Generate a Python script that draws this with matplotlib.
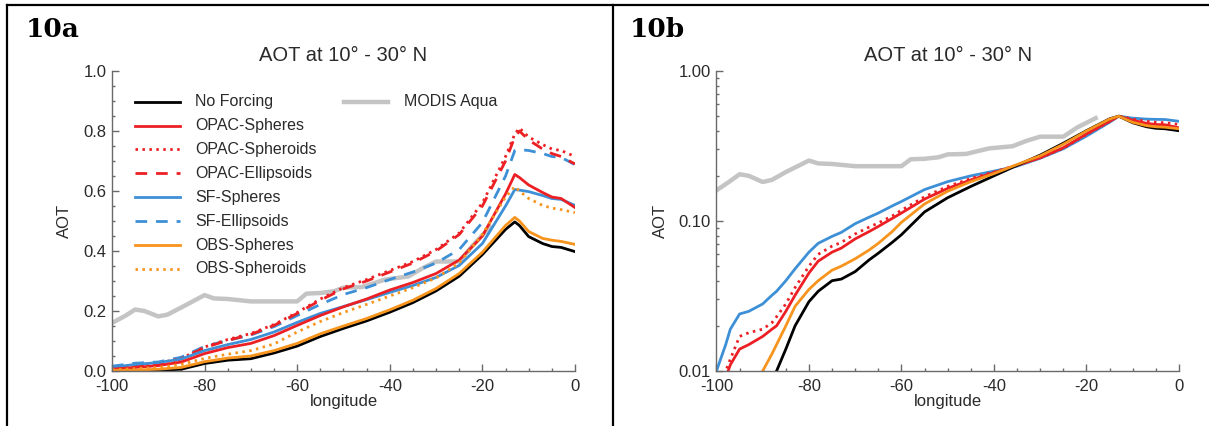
import matplotlib
matplotlib.use("Agg")
import matplotlib.pyplot as plt
from matplotlib.ticker import MultipleLocator, FixedLocator, LogLocator, NullFormatter, FuncFormatter
from matplotlib.lines import Line2D

plt.rcParams['font.family'] = ['Liberation Sans', 'DejaVu Sans']
plt.rcParams['axes.unicode_minus'] = False

# ---------------- data ----------------
lon_a = [-100, -95, -90, -85, -80, -75, -70, -65, -60, -55, -50, -45, -40,
         -35, -30, -25, -20, -15, -13, -12, -10, -7, -5, -3, 0]

no_forcing_a = [0.000, 0.000, 0.002, 0.006, 0.025, 0.036, 0.041, 0.060, 0.083, 0.115, 0.142, 0.167, 0.196,
                0.228, 0.267, 0.316, 0.388, 0.472, 0.497, 0.485, 0.448, 0.425, 0.415, 0.412, 0.398]
opac_spheres_a = [0.006, 0.012, 0.018, 0.030, 0.058, 0.078, 0.092, 0.118, 0.152, 0.185, 0.214, 0.240, 0.270,
                  0.295, 0.325, 0.370, 0.450, 0.590, 0.655, 0.645, 0.620, 0.595, 0.580, 0.575, 0.545]
opac_spheroids_a = [0.010, 0.020, 0.026, 0.042, 0.080, 0.105, 0.125, 0.155, 0.195, 0.240, 0.278, 0.305, 0.335,
                    0.365, 0.405, 0.460, 0.560, 0.715, 0.790, 0.810, 0.780, 0.755, 0.740, 0.735, 0.715]
opac_ellipsoids_a = [0.009, 0.018, 0.025, 0.040, 0.078, 0.102, 0.122, 0.152, 0.192, 0.236, 0.274, 0.300, 0.330,
                     0.360, 0.400, 0.455, 0.550, 0.700, 0.780, 0.800, 0.770, 0.740, 0.725, 0.715, 0.690]
sf_spheres_a = [0.012, 0.022, 0.028, 0.040, 0.068, 0.088, 0.105, 0.130, 0.162, 0.192, 0.215, 0.238, 0.262,
                0.285, 0.312, 0.352, 0.425, 0.550, 0.605, 0.603, 0.598, 0.585, 0.575, 0.572, 0.552]
sf_ellipsoids_a = [0.016, 0.026, 0.030, 0.046, 0.082, 0.102, 0.120, 0.148, 0.185, 0.222, 0.255, 0.278, 0.305,
                   0.330, 0.360, 0.405, 0.495, 0.650, 0.735, 0.738, 0.735, 0.725, 0.715, 0.712, 0.688]
obs_spheres_a = [0.002, 0.003, 0.006, 0.012, 0.031, 0.043, 0.050, 0.068, 0.092, 0.124, 0.150, 0.175, 0.204,
                 0.236, 0.275, 0.325, 0.396, 0.485, 0.512, 0.500, 0.465, 0.442, 0.436, 0.432, 0.422]
obs_spheroids_a = [0.004, 0.008, 0.012, 0.022, 0.042, 0.056, 0.068, 0.090, 0.130, 0.165, 0.195, 0.222, 0.250,
                   0.278, 0.310, 0.360, 0.455, 0.580, 0.615, 0.600, 0.575, 0.552, 0.543, 0.538, 0.528]

lon_modis = [-100, -97, -95, -93, -90, -88, -85, -80, -78, -75, -70, -65, -60,
             -58, -55, -52, -50, -46, -44, -41, -36, -33, -30, -25, -22, -18]
modis_aqua = [0.160, 0.185, 0.205, 0.200, 0.182, 0.188, 0.212, 0.253, 0.242, 0.240, 0.232, 0.232, 0.232,
              0.258, 0.260, 0.266, 0.278, 0.280, 0.290, 0.305, 0.315, 0.342, 0.365, 0.365, 0.420, 0.485]

lon_b = [-100, -98, -97, -95, -93, -90, -88, -87, -85, -83, -80, -78, -75, -73, -70, -67, -65,
         -62, -60, -55, -50, -45, -40, -35, -30, -25, -20, -15, -13, -10, -7, -5, -3, 0]

no_forcing_b = [0.002, 0.002, 0.003, 0.003, 0.004, 0.006, 0.008, 0.010, 0.014, 0.020, 0.029, 0.034, 0.040,
                0.041, 0.046, 0.055, 0.061, 0.072, 0.081, 0.115, 0.143, 0.170, 0.200, 0.235, 0.275, 0.330,
                0.400, 0.480, 0.500, 0.452, 0.425, 0.415, 0.412, 0.400]
opac_spheres_b = [0.006, 0.009, 0.011, 0.014, 0.015, 0.017, 0.019, 0.020, 0.025, 0.032, 0.045, 0.054, 0.062,
                  0.066, 0.076, 0.085, 0.092, 0.104, 0.113, 0.140, 0.165, 0.188, 0.210, 0.235, 0.264, 0.308,
                  0.380, 0.462, 0.500, 0.470, 0.448, 0.440, 0.438, 0.418]
opac_spheroids_b = [0.007, 0.010, 0.012, 0.017, 0.018, 0.019, 0.021, 0.023, 0.028, 0.036, 0.050, 0.060, 0.068,
                    0.072, 0.082, 0.091, 0.097, 0.108, 0.118, 0.145, 0.170, 0.192, 0.212, 0.236, 0.264, 0.306,
                    0.378, 0.460, 0.500, 0.478, 0.462, 0.455, 0.452, 0.440]
sf_spheres_b = [0.010, 0.015, 0.019, 0.024, 0.025, 0.028, 0.032, 0.034, 0.040, 0.048, 0.062, 0.071, 0.079,
                0.084, 0.096, 0.106, 0.113, 0.126, 0.135, 0.162, 0.183, 0.200, 0.215, 0.232, 0.262, 0.303,
                0.368, 0.455, 0.500, 0.485, 0.478, 0.476, 0.475, 0.462]
obs_spheres_b = [0.003, 0.004, 0.004, 0.005, 0.006, 0.010, 0.013, 0.015, 0.020, 0.027, 0.035, 0.040, 0.047,
                 0.050, 0.056, 0.064, 0.071, 0.085, 0.098, 0.130, 0.158, 0.183, 0.207, 0.238, 0.272, 0.325,
                 0.398, 0.478, 0.500, 0.455, 0.432, 0.425, 0.422, 0.412]

x_ticks = [-100, -80, -60, -40, -20, 0]

# ---------------- styles ----------------
RED = '#ec2024'
BLUE = '#3d8fd6'
ORANGE = '#f7941d'
GRAY = '#c4c4c4'
AXIS = '#6a6a6a'
TXT = '#2a2a2a'
DOT = (0, (0.9, 1.6))
DASH = (0, (4.2, 3.2))
LW = 2.0
TICK_FS = 12
LABEL_FS = 12
LEG_FS = 11.5

fig = plt.figure(figsize=(12.09, 4.26), dpi=100)

# table-style frame
fig.add_artist(Line2D([0.0058, 1.0], [0.988, 0.988], color='black', lw=1.6, transform=fig.transFigure))
fig.add_artist(Line2D([0.0058, 0.0058], [0.0, 0.988], color='black', lw=1.6, transform=fig.transFigure))
fig.add_artist(Line2D([0.507, 0.507], [0.0, 0.988], color='black', lw=1.6, transform=fig.transFigure))
fig.text(0.021, 0.913, '10a', fontsize=19, fontweight='bold', family='DejaVu Serif', va='baseline')
fig.text(0.521, 0.913, '10b', fontsize=19, fontweight='bold', family='DejaVu Serif', va='baseline')

ax_a = fig.add_axes([0.0926, 0.1291, 0.3830, 0.7042])
ax_b = fig.add_axes([0.5926, 0.1291, 0.3825, 0.7042])


def style_axes(ax):
    for side in ('top', 'right'):
        ax.spines[side].set_visible(False)
    for side in ('left', 'bottom'):
        ax.spines[side].set_color(AXIS)
        ax.spines[side].set_linewidth(1.0)
    ax.tick_params(which='both', direction='in', colors=AXIS, labelcolor=TXT, labelsize=TICK_FS, width=1.0)
    ax.tick_params(which='major', length=5)
    ax.tick_params(which='minor', length=2.5)
    ax.tick_params(axis='x', pad=6)
    ax.tick_params(axis='y', pad=4)
    ax.set_xlim(-100, 0)
    ax.xaxis.set_major_locator(FixedLocator(x_ticks))
    ax.xaxis.set_minor_locator(MultipleLocator(5))
    ax.set_xlabel('longitude', fontsize=LABEL_FS, color=TXT, labelpad=0)
    ax.set_ylabel('AOT', fontsize=LABEL_FS, color=TXT, labelpad=8)
    ax.set_title('AOT at 10\u00b0 - 30\u00b0 N', fontsize=14.5, color=TXT, pad=7)


# ---------------- panel a ----------------
ax = ax_a
ax.plot(lon_modis, modis_aqua, color=GRAY, lw=3.2, solid_capstyle='butt')
ax.plot(lon_a, sf_ellipsoids_a, color=BLUE, lw=LW, ls=DASH)
ax.plot(lon_a, opac_ellipsoids_a, color=RED, lw=LW, ls=DASH)
ax.plot(lon_a, opac_spheroids_a, color=RED, lw=LW, ls=DOT)
ax.plot(lon_a, sf_spheres_a, color=BLUE, lw=LW)
ax.plot(lon_a, opac_spheres_a, color=RED, lw=LW)
ax.plot(lon_a, obs_spheroids_a, color=ORANGE, lw=LW, ls=DOT)
ax.plot(lon_a, no_forcing_a, color='black', lw=LW)
ax.plot(lon_a, obs_spheres_a, color=ORANGE, lw=LW)
ax.set_ylim(0, 1.0)
ax.yaxis.set_major_locator(MultipleLocator(0.2))
ax.yaxis.set_minor_locator(MultipleLocator(0.05))
ax.yaxis.set_major_formatter(FuncFormatter(lambda v, p: f'{v:.1f}'))
style_axes(ax)

# legend drawn in axes coordinates
legend_rows = [
    ('No Forcing', 'black', '-'),
    ('OPAC-Spheres', RED, '-'),
    ('OPAC-Spheroids', RED, DOT),
    ('OPAC-Ellipsoids', RED, DASH),
    ('SF-Spheres', BLUE, '-'),
    ('SF-Ellipsoids', BLUE, DASH),
    ('OBS-Spheres', ORANGE, '-'),
    ('OBS-Spheroids', ORANGE, DOT),
]
for i, (name, col, ls) in enumerate(legend_rows):
    yy = 0.898 - i * 0.0797
    ax.add_line(Line2D([0.05, 0.147], [yy, yy], color=col, lw=LW, ls=ls,
                       transform=ax.transAxes, clip_on=False))
    ax.text(0.179, yy, name, transform=ax.transAxes, fontsize=LEG_FS, color=TXT, va='center')
ax.add_line(Line2D([0.501, 0.596], [0.898, 0.898], color=GRAY, lw=3.2,
                   transform=ax.transAxes, clip_on=False))
ax.text(0.631, 0.898, 'MODIS Aqua', transform=ax.transAxes, fontsize=LEG_FS, color=TXT, va='center')

# ---------------- panel b ----------------
ax = ax_b
ax.set_yscale('log')
ax.plot(lon_modis, modis_aqua, color=GRAY, lw=3.2)
ax.plot(lon_b, sf_spheres_b, color=BLUE, lw=LW)
ax.plot(lon_b, opac_spheroids_b, color=RED, lw=LW, ls=DOT)
ax.plot(lon_b, opac_spheres_b, color=RED, lw=LW)
ax.plot(lon_b, no_forcing_b, color='black', lw=LW)
ax.plot(lon_b, obs_spheres_b, color=ORANGE, lw=LW)
ax.set_ylim(0.01, 1.0)
ax.yaxis.set_major_locator(FixedLocator([0.01, 0.1, 1.0]))
ax.yaxis.set_major_formatter(FuncFormatter(lambda v, p: f'{v:.2f}'))
ax.yaxis.set_minor_locator(LogLocator(base=10, subs=range(2, 10)))
ax.yaxis.set_minor_formatter(NullFormatter())
style_axes(ax)

fig.savefig('out.png', dpi=100)
